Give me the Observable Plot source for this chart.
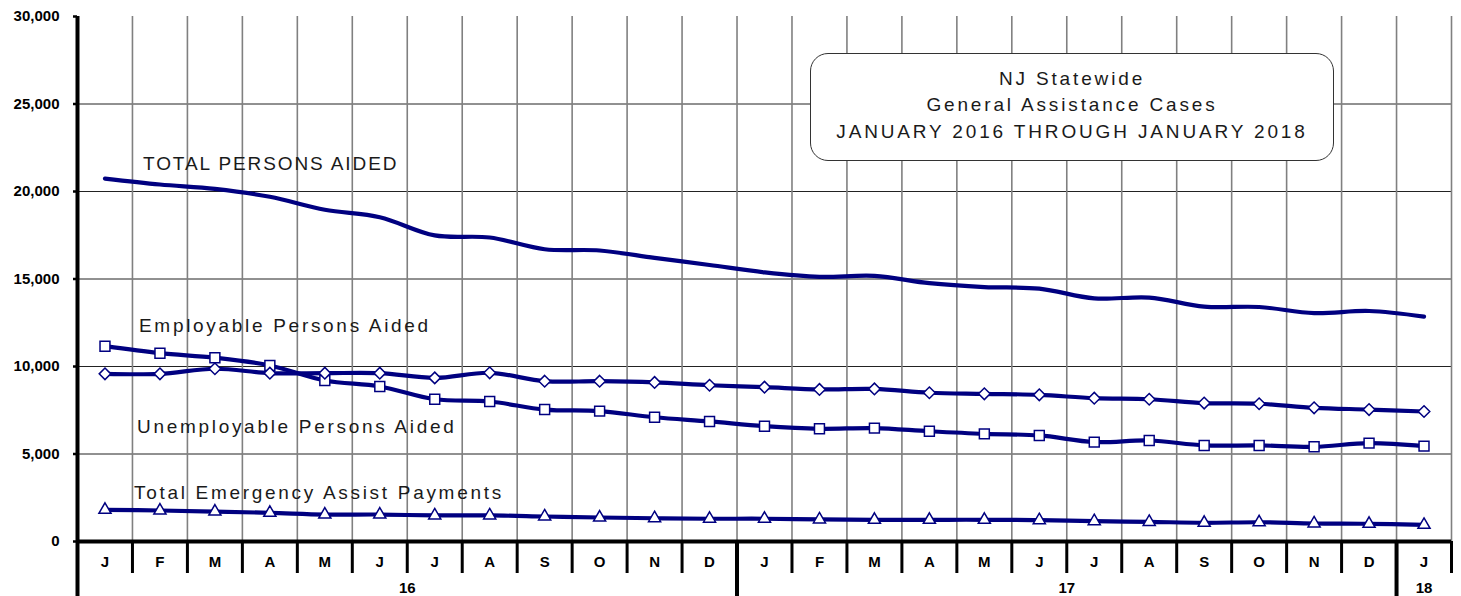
<!DOCTYPE html>
<html>
<head>
<meta charset="utf-8">
<script src="https://cdn.jsdelivr.net/npm/d3@7"></script>
<script src="https://cdn.jsdelivr.net/npm/@observablehq/plot@0.6"></script>
<style>
  html, body { margin: 0; padding: 0; background: #fff; }
  #wrap { position: relative; width: 1461px; height: 596px; overflow: hidden; font-family: "Liberation Sans", Arial, sans-serif; }
  #titlebox {
    position: absolute; left: 810px; top: 53px; width: 522px; height: 103px;
    border: 1.3px solid #333; border-radius: 18px; background: #fff;
    display: flex; flex-direction: column; justify-content: center; align-items: center;
    font-size: 19px; line-height: 26.5px; letter-spacing: 2.85px; color: #1a1a1a;
    padding-bottom: 3px; box-sizing: content-box;
  }
</style>
</head>
<body>
<div id="wrap"></div>
<script>
// ---- data ----
const months = ["J","F","M","A","M","J","J","A","S","O","N","D","J","F","M","A","M","J","J","A","S","O","N","D","J"];
const yearLabels = ["16", "17", "18"];
const yearStarts = [0, 12, 24];
const yearEnds = [12, 24, 25];
const yTicks = [0, 5000, 10000, 15000, 20000, 25000, 30000];

const totalPersons = [20740, 20400, 20150, 19700, 18960, 18530, 17490, 17370, 16700, 16630, 16210, 15800, 15380, 15120, 15180, 14760, 14540, 14450, 13890, 13940, 13420, 13400, 13050, 13170, 12850];
const employable   = [11160, 10760, 10500, 10060, 9200, 8860, 8130, 8000, 7540, 7450, 7100, 6860, 6590, 6440, 6480, 6300, 6150, 6060, 5680, 5770, 5490, 5490, 5410, 5620, 5450];
const unemployable = [9580, 9580, 9870, 9620, 9620, 9620, 9350, 9640, 9160, 9160, 9090, 8930, 8820, 8690, 8720, 8500, 8440, 8380, 8190, 8130, 7910, 7870, 7640, 7540, 7430];
const emergency    = [1810, 1770, 1710, 1640, 1540, 1540, 1490, 1490, 1430, 1370, 1330, 1300, 1300, 1260, 1240, 1240, 1240, 1220, 1160, 1120, 1070, 1100, 1030, 1010, 950];

const seriesNames = ["TOTAL PERSONS AIDED", "Employable Persons Aided", "Unemployable Persons Aided", "Total Emergency Assist Payments"];
const titleLines = ["NJ Statewide", "General Assistance Cases", "JANUARY 2016 THROUGH JANUARY 2018"];

// ---- build ----
const rows = vals => vals.map((v, i) => ({x: i + 0.5, y: v}));
const tot = rows(totalPersons), emp = rows(employable), une = rows(unemployable), eme = rows(emergency);
const navy = "#000080";
const font = "Liberation Sans, Arial, sans-serif";
const lineOpts = {x: "x", y: "y", curve: "catmull-rom", stroke: navy, strokeWidth: 4.2};
const dotOpts = {x: "x", y: "y", fill: "white", stroke: navy, strokeWidth: 1.5};
const labelOpts = {x: "x", y: "y", textAnchor: "start", lineAnchor: "middle", fontSize: 19, fill: "#1a1a1a"};

const chart = Plot.plot({
  width: 1461, height: 596,
  marginLeft: 77, marginRight: 10, marginTop: 16, marginBottom: 55,
  x: {type: "linear", domain: [0, months.length], axis: null},
  y: {domain: [0, 30000], axis: null},
  style: {fontFamily: font, background: "white", overflow: "visible"},
  marks: [
    Plot.ruleY(yTicks.slice(1, -1), {stroke: "#222", strokeWidth: 1}),
    Plot.ruleX(d3.range(1, months.length + 1), {stroke: "#808080", strokeWidth: 1.6}),
    Plot.line(tot, lineOpts),
    Plot.line(emp, lineOpts),
    Plot.line(une, lineOpts),
    Plot.line(eme, lineOpts),
    Plot.dot(emp, {...dotOpts, symbol: "square", r: 5.6}),
    Plot.dot(une, {...dotOpts, symbol: "diamond2", r: 5.2}),
    Plot.dot(eme, {...dotOpts, symbol: "triangle", r: 4.5}),
    Plot.text([tot[0]], {...labelOpts, text: () => seriesNames[0], dx: 38, dy: -15}),
    Plot.text([emp[0]], {...labelOpts, text: () => seriesNames[1], dx: 34, dy: -20}),
    Plot.text([une[0]], {...labelOpts, text: () => seriesNames[2], dx: 32, dy: 53}),
    Plot.text([eme[0]], {...labelOpts, text: () => seriesNames[3], dx: 29, dy: -17}),
    Plot.ruleY([0], {stroke: "black", strokeWidth: 4}),
    Plot.ruleX([0], {stroke: "black", strokeWidth: 4}),
    Plot.axisY({ticks: yTicks, tickFormat: d3.format(","), tickSize: 4, tickPadding: 14,
      fontWeight: "bold", fontSize: 15, strokeWidth: 2.5, label: null}),
    Plot.axisX({ticks: d3.range(months.length + 1), tickSize: 32, tickFormat: () => "", strokeWidth: 3, label: null}),
    Plot.axisX({ticks: yearStarts, tickSize: 56, tickFormat: () => "", strokeWidth: 4, label: null}),
    Plot.text(d3.range(months.length), {x: i => i + 0.5, y: () => 0, dy: 21, text: i => months[i],
      fontWeight: "bold", fontSize: 15, lineAnchor: "middle", fill: "black"}),
    Plot.text(yearLabels, {x: (d, i) => (yearStarts[i] + yearEnds[i]) / 2, y: () => 0, dy: 47, text: d => d,
      fontWeight: "bold", fontSize: 15, lineAnchor: "middle", fill: "black"})
  ]
});

d3.select(chart).selectAll("text")
  .filter(function() { return seriesNames.includes(this.textContent); })
  .style("letter-spacing", function() { return this.textContent === seriesNames[0] ? "1.9px" : "2.7px"; });

const wrap = document.getElementById("wrap");
wrap.appendChild(chart);
const box = document.createElement("div");
box.id = "titlebox";
titleLines.forEach(t => { const d = document.createElement("div"); d.textContent = t; box.appendChild(d); });
wrap.appendChild(box);
</script>
</body>
</html>
